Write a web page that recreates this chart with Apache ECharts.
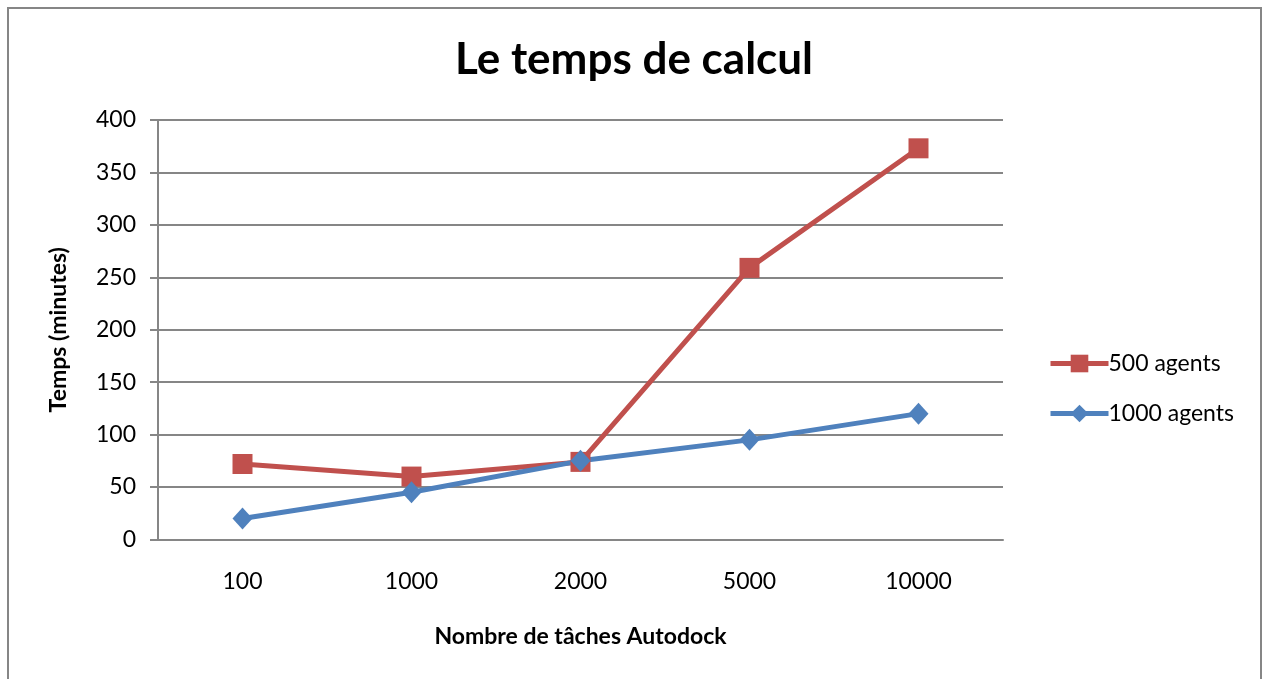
<!DOCTYPE html>
<html><head><meta charset="utf-8">
<script src="https://cdn.jsdelivr.net/npm/echarts@6/dist/echarts.min.js"></script>
<style>html,body{margin:0;padding:0;background:#fff}#c{width:1268px;height:679px}</style>
</head><body><div id="c"></div>
<script>
const categories = ['100', '1000', '2000', '5000', '10000'];
const agents500 = [72, 60, 74, 259, 373];
const agents1000 = [20, 45, 75, 95, 120];
const yTicks = [0, 50, 100, 150, 200, 250, 300, 350, 400];

const font = 'Lato, "Open Sans", sans-serif';
const chart = echarts.init(document.getElementById('c'));
chart.setOption({
  animation: false,
  backgroundColor: '#fff',
  graphic: [{
    type: 'rect', shape: { x: 8, y: 8, width: 1253, height: 700 },
    style: { fill: 'none', stroke: '#868686', lineWidth: 2 }, silent: true
  }],
  title: {
    text: 'Le temps de calcul', left: 'center', top: 33,
    textStyle: { fontFamily: font, fontSize: 44, fontWeight: 'bold', color: '#000' }
  },
  grid: { left: 158, right: 265, top: 120, bottom: 139.5 },
  legend: {
    orient: 'vertical', left: 1043, top: 347, itemGap: 27,
    itemWidth: 58, itemHeight: 22,
    lineStyle: { width: 5 },
    textStyle: { fontFamily: font, fontSize: 23, color: '#000', padding: [0, 0, 0, -5] },
    data: ['500 agents', '1000 agents']
  },
  xAxis: {
    type: 'category', data: categories, boundaryGap: true,
    name: 'Nombre de tâches Autodock', nameLocation: 'middle', nameGap: 86,
    nameTextStyle: { fontFamily: font, fontSize: 23, fontWeight: 'bold', color: '#000' },
    axisLine: { lineStyle: { color: '#868686', width: 2 } },
    axisTick: { show: false },
    axisLabel: { fontFamily: font, fontSize: 23, color: '#000', margin: 31 }
  },
  yAxis: {
    type: 'value', min: 0, max: 400, interval: 50,
    name: 'Temps (minutes)', nameLocation: 'middle', nameGap: 88, nameRotate: 90,
    nameTextStyle: { fontFamily: font, fontSize: 23, fontWeight: 'bold', color: '#000' },
    axisLine: { show: true, lineStyle: { color: '#868686', width: 2 } },
    axisTick: { show: true, length: 8, lineStyle: { color: '#868686', width: 2 } },
    splitLine: { lineStyle: { color: '#868686', width: 2 } },
    axisLabel: { fontFamily: font, fontSize: 23, color: '#000', margin: 22,
      formatter: v => yTicks.includes(v) ? String(v) : '' }
  },
  series: [
    { name: '500 agents', type: 'line', data: agents500,
      symbol: 'rect', symbolSize: 20,
      lineStyle: { color: '#C0504D', width: 5 },
      itemStyle: { color: '#C0504D' } },
    { name: '1000 agents', type: 'line', data: agents1000,
      symbol: 'diamond', symbolSize: [20, 22],
      lineStyle: { color: '#4F81BD', width: 5 },
      itemStyle: { color: '#4F81BD' } }
  ]
});
</script></body></html>
